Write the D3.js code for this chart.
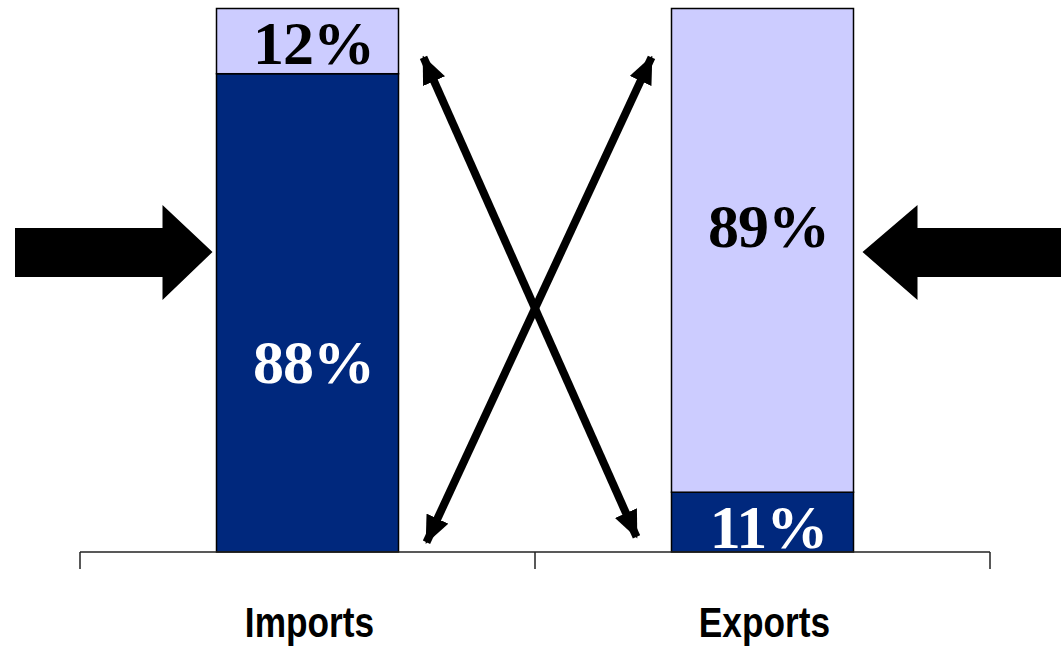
<html>
<head>
    <script src='https://d3js.org/d3.v7.min.js'></script>
</head>
<body style="margin:0; background:#fff;">

<div id="chart"></div>

<script>

// data
var categories = ["Imports", "Exports"];
var darkShare  = [88, 11];   // bottom segment (navy)
var lightShare = [12, 89];   // top segment (lavender)

var width = 1061, height = 648;

var svg = d3.select("#chart")
    .append("svg")
    .attr("width", width)
    .attr("height", height);

var x = d3.scaleBand()
    .domain(categories)
    .range([80, 990])
    .paddingInner(0.6)
    .paddingOuter(0.3);

var y = d3.scaleLinear()
    .domain([0, 100])
    .range([552, 8.5]);

var navy = "#00287d", lav = "#ccccff";

// build the stacked rows
var rows = categories.map(function(c, i) {
    return {cat: c, dark: darkShare[i], light: lightShare[i]};
});

// dark segments
svg.append("g")
    .selectAll("rect")
    .data(rows)
    .enter()
    .append("rect")
    .attr("x", function(d) { return x(d.cat); })
    .attr("y", function(d) { return y(d.dark); })
    .attr("width", x.bandwidth())
    .attr("height", function(d) { return y(0) - y(d.dark); })
    .style("fill", navy)
    .style("stroke", "#000")
    .style("stroke-width", 1.5);

// light segments
svg.append("g")
    .selectAll("rect")
    .data(rows)
    .enter()
    .append("rect")
    .attr("x", function(d) { return x(d.cat); })
    .attr("y", function(d) { return y(d.dark + d.light); })
    .attr("width", x.bandwidth())
    .attr("height", function(d) { return y(d.dark) - y(d.dark + d.light); })
    .style("fill", lav)
    .style("stroke", "#000")
    .style("stroke-width", 1.5);

// axis line with ticks at group boundaries
var r = x.range();
var axis = svg.append("g").style("stroke", "#222").style("stroke-width", 1.5);
axis.append("line")
    .attr("x1", r[0]).attr("x2", r[1])
    .attr("y1", y(0)).attr("y2", y(0));
[r[0], (r[0] + r[1]) / 2, r[1]].forEach(function(t) {
    axis.append("line")
        .attr("x1", t).attr("x2", t)
        .attr("y1", y(0)).attr("y2", y(0) + 17);
});

// category labels
svg.append("g")
    .selectAll("text")
    .data(categories)
    .enter()
    .append("text")
    .attr("transform", function(d) {
        return "translate(" + (x(d) + x.bandwidth() / 2 + 2) + ",637) scale(0.84,1)";
    })
    .style("text-anchor", "middle")
    .style("font-family", "Arial, 'Liberation Sans', sans-serif")
    .style("font-weight", "bold")
    .style("font-size", "42px")
    .style("fill", "#000")
    .text(function(d) { return d; });

// percentage labels
var pctStyle = function(sel) {
    sel.style("text-anchor", "middle")
       .style("font-family", "'Times New Roman', 'Liberation Serif', serif")
       .style("font-weight", "bold")
       .style("font-size", "62px")
       .style("letter-spacing", "-1px");
};
// vertical nudges (px) from the segment middle to the baseline
var darkNudge  = [70, 26];
var lightNudge = [23, -3];

svg.append("g")
    .selectAll("text")
    .data(rows)
    .enter()
    .append("text")
    .attr("x", function(d) { return x(d.cat) + x.bandwidth() / 2 + 6; })
    .attr("y", function(d, i) { return (y(0) + y(d.dark)) / 2 + darkNudge[i]; })
    .call(pctStyle)
    .style("fill", "#fff")
    .text(function(d) { return d.dark + "%"; });

svg.append("g")
    .selectAll("text")
    .data(rows)
    .enter()
    .append("text")
    .attr("x", function(d) { return x(d.cat) + x.bandwidth() / 2 + 6; })
    .attr("y", function(d, i) { return (y(d.dark) + y(d.dark + d.light)) / 2 + lightNudge[i]; })
    .call(pctStyle)
    .style("fill", "#000")
    .text(function(d) { return d.light + "%"; });

// double headed crossing arrows
var defs = svg.append("defs");
defs.append("marker")
    .attr("id", "head")
    .attr("markerUnits", "userSpaceOnUse")
    .attr("viewBox", "0 0 28 24")
    .attr("refX", 26)
    .attr("refY", 12)
    .attr("markerWidth", 28)
    .attr("markerHeight", 24)
    .attr("orient", "auto-start-reverse")
    .append("path")
    .attr("d", "M0,0 L28,12 L0,24 Z")
    .style("fill", "#000");

var impRight = x("Imports") + x.bandwidth();
var expLeft = x("Exports");
var arrows = [
    [[impRight + 25, y(91)], [expLeft - 35, y(2.8)]],
    [[expLeft - 20, y(91)], [impRight + 28, y(1.8)]]
];
svg.append("g")
    .selectAll("line")
    .data(arrows)
    .enter()
    .append("line")
    .attr("x1", function(d) { return d[0][0]; })
    .attr("y1", function(d) { return d[0][1]; })
    .attr("x2", function(d) { return d[1][0]; })
    .attr("y2", function(d) { return d[1][1]; })
    .style("stroke", "#000")
    .style("stroke-width", 8)
    .attr("marker-start", "url(#head)")
    .attr("marker-end", "url(#head)");

// big block arrows pointing at the bars
var cy = 252;
var lt = x("Imports") - 4;            // tip of left arrow
var rt = expLeft + x.bandwidth() + 9;  // tip of right arrow
var block = d3.line();
svg.append("path")
    .attr("d", block([[lt, cy], [lt - 50, cy - 47], [lt - 50, cy - 24], [15, cy - 24],
                      [15, cy + 25], [lt - 50, cy + 25], [lt - 50, cy + 48]]) + "Z")
    .style("fill", "#000");
svg.append("path")
    .attr("d", block([[rt, cy], [rt + 55, cy - 47], [rt + 55, cy - 24], [width, cy - 24],
                      [width, cy + 25], [rt + 55, cy + 25], [rt + 55, cy + 48]]) + "Z")
    .style("fill", "#000");

</script>

</body>
</html>
